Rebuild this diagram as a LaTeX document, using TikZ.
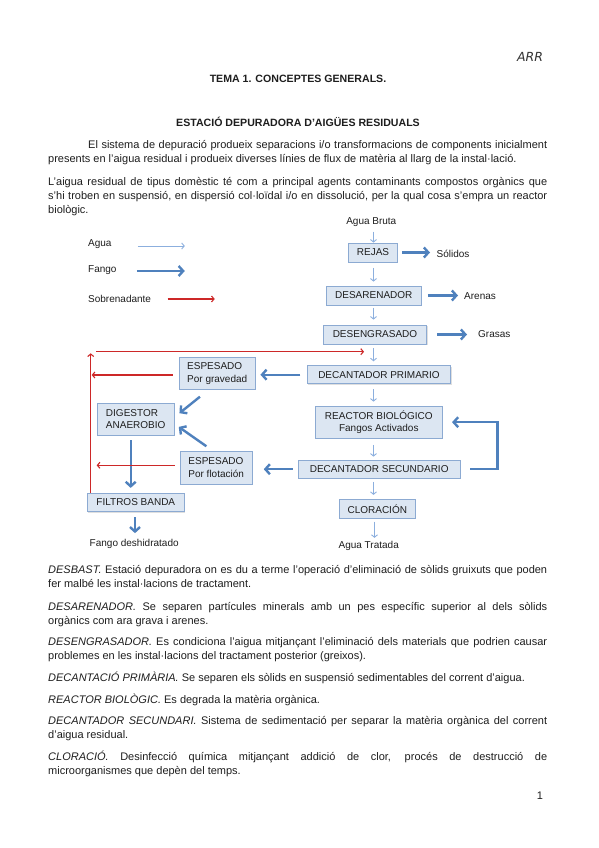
\documentclass[tikz,border=0pt]{standalone}
\usepackage{fontspec}
\setmainfont{Liberation Sans}
\newfontfamily\handfont{DejaVu Sans}
\usetikzlibrary{arrows.meta,positioning,shadows}

\definecolor{boxfill}{RGB}{220,230,242}
\definecolor{boxline}{RGB}{140,170,210}
\definecolor{aguac}{RGB}{140,175,222}
\definecolor{fangoc}{RGB}{79,129,189}
\definecolor{sobrc}{RGB}{205,40,40}
\definecolor{txt}{RGB}{30,30,30}

\newcommand{\bodyfont}{\fontsize{11}{14.3}\selectfont}
\newcommand{\headfont}{\fontsize{10.6}{13}\selectfont\bfseries}
\newcommand{\diagfont}{\fontsize{10}{12.7}\selectfont}
\hyphenpenalty=10000
\exhyphenpenalty=10000
\tolerance=10000
\hbadness=10000

\tikzset{
  para/.style={anchor=base west, text width=499pt, align=justify, inner sep=0pt, font=\bodyfont, text=txt},
  stage/.style={draw=boxline, fill=boxfill, line width=0.8pt, font=\diagfont, text=txt, inner sep=0pt,
    minimum height=19pt, drop shadow={shadow xshift=0.8pt, shadow yshift=-0.8pt, opacity=0.25}},
  lbl/.style={font=\diagfont, text=txt, inner sep=0pt},
  agua/.style={draw=aguac, line width=0.9pt, -{Straight Barb[length=2.5pt,width=6pt]}, shorten <=4pt, shorten >=4pt},
  fango/.style={draw=fangoc, line width=2.4pt, -{Straight Barb[length=4.5pt,width=10pt]}},
  sobr/.style={draw=sobrc, line width=1.1pt, -{Straight Barb[length=2.5pt,width=6pt]}},
}

\begin{document}
\begin{tikzpicture}[x=1pt, y=-1pt]
  \fill[white] (0,0) rectangle (599,848);
  \useasboundingbox (0,0) rectangle (599,848);

  % capcalera
  \node[font=\handfont\itshape\fontsize{12.5}{14}\selectfont, text=black!80] (arr) at (530,57) {ARR};
  \node[font=\headfont, text=txt, anchor=base] (tema) at (298,83) {TEMA 1. CONCEPTES GENERALS.};
  \node[font=\headfont, text=txt, anchor=base] (titol) at (298,127) {ESTACIÓ DEPURADORA D’AIGÜES RESIDUALS};

  \node[para] (intro) at (48,148) {\hspace*{40pt}El sistema de depuració produeix separacions i/o transformacions de components inicialment\linebreak
    presents en l’aigua residual i produeix diverses línies de flux de matèria al llarg de la instal·lació.};
  \node[para] (domestic) at (48,185) {L’aigua residual de tipus domèstic té com a principal agents contaminants compostos orgànics que\linebreak
    s’hi troben en suspensió, en dispersió col·loïdal i/o en dissolució, per la qual cosa s’empra un reactor\linebreak
    biològic.};

  % llegenda
  \node[lbl, anchor=west] (lagua) at (88,244) {Agua};
  \node[lbl, anchor=west] (lfango) at (88,270) {Fango};
  \node[lbl, anchor=west] (lsobr) at (88,299) {Sobrenadante};
  \draw[agua, shorten <=0pt, shorten >=0pt] ([xshift=26pt,yshift=-2pt]lagua.east) -- ++(47,0);
  \draw[fango] ([xshift=20pt,yshift=-1pt]lfango.east) -- ++(48,0);
  \draw[sobr] ([xshift=16.5pt]lsobr.east) -- ++(47,0);

  % linia d'aigua
  \coordinate (col) at (373.5,0);
  \node[lbl] (bruta) at (371.3,222) {Agua Bruta};
  \node[stage, minimum width=48.6pt] (rejas) at (373,252.5) {REJAS};
  \node[lbl, anchor=west] (solidos) at (436.5,254) {Sólidos};
  \node[stage, minimum width=94.3pt] (desarenador) at (373.8,295.5) {DESARENADOR};
  \node[lbl, anchor=west] (arenas) at (464,296) {Arenas};
  \node[stage, minimum width=103.4pt] (desengrasado) at (375,334.5) {DESENGRASADO};
  \node[lbl, anchor=west] (grasas) at (478,334.5) {Grasas};
  \node[stage, minimum width=143.4pt, minimum height=18pt] (primario) at (379,374.7) {DECANTADOR PRIMARIO};
  \node[stage, minimum width=127.7pt, minimum height=32.3pt, align=center] (reactor) at (378.8,422.2) {REACTOR BIOLÓGICO\\Fangos Activados};
  \node[stage, minimum width=161.7pt, minimum height=18.3pt] (secundario) at (379.2,469.2) {DECANTADOR SECUNDARIO};
  \node[stage, minimum width=76.7pt] (cloracion) at (377.3,508.8) {CLORACIÓN};
  \node[lbl] (tratada) at (368.7,545.7) {Agua Tratada};

  % linia de fangs
  \node[stage, minimum width=75.7pt, minimum height=32pt, align=left] (espgrav) at (217.2,373.3) {ESPESADO\\Por gravedad};
  \node[stage, minimum width=76.7pt, minimum height=31.7pt, align=left] (digestor) at (135.7,419.2) {DIGESTOR\\ANAEROBIO};
  \node[stage, minimum width=72.3pt, minimum height=32.3pt, align=left] (espflot) at (216.2,467.8) {ESPESADO\\Por flotación};
  \node[stage, minimum width=97pt, minimum height=18.4pt] (filtros) at (135.8,502.5) {FILTROS BANDA};
  \node[lbl] (deshid) at (134.2,544) {Fango deshidratado};

  \draw[agua, shorten <=5pt, shorten >=0pt] (col |- bruta.south) -- (col |- rejas.north);
  \draw[agua, shorten <=5.5pt] (col |- rejas.south) -- (col |- desarenador.north);
  \draw[agua, shorten <=2.5pt, shorten >=5pt] (col |- desarenador.south) -- (col |- desengrasado.north);
  \draw[agua] (col |- desengrasado.south) -- (col |- primario.north);
  \draw[agua, shorten <=5pt] (col |- primario.south) -- (col |- reactor.north);
  \draw[agua, shorten <=6pt, shorten >=3pt] (col |- reactor.south) -- (col |- secundario.north);
  \draw[agua, shorten <=3pt] (col |- secundario.south) -- (col |- cloracion.north);
  \draw[agua, shorten <=3pt, shorten >=3pt] ([xshift=1pt]col |- cloracion.south) -- ([xshift=1pt]col |- tratada.north);

  \draw[fango, shorten <=4.5pt, shorten >=6.5pt] (rejas.east) -- (rejas.east -| solidos.west);
  \draw[fango, shorten <=6.5pt, shorten >=6pt] (desarenador.east) -- (desarenador.east -| arenas.west);
  \draw[fango, shorten <=10pt, shorten >=11pt] (desengrasado.east) -- (desengrasado.east -| grasas.west);
  \draw[fango, shorten <=6.5pt, shorten >=5pt] (primario.west) -- (primario.west -| espgrav.east);
  \draw[fango, shorten <=5pt, shorten >=11pt] (secundario.west) -- (secundario.west -| espflot.east);
  \draw[fango] ([xshift=10pt]secundario.east) -- ++(27,0) |- ([xshift=9pt]reactor.east);
  \draw[fango] ([shift={(21,7)}]espgrav.south west) -- ([shift={(5,-6)}]digestor.east);
  \draw[fango] ([shift={(26.7,-5)}]espflot.north west) -- ([shift={(4.3,7.7)}]digestor.east);
  \draw[fango, shorten <=5pt, shorten >=5pt] ([xshift=-5pt]digestor.south) -- ([xshift=-5pt]digestor.south |- filtros.north);
  \draw[fango, shorten <=5pt, shorten >=6pt] ([xshift=-0.8pt]filtros.south) -- ([xshift=-0.8pt]filtros.south |- deshid.north);

  % sobrenadant
  \coordinate (redtop) at (90.7,353.3);
  \coordinate (retl) at (96,351.7);
  \coordinate (retr) at (364,351.7);
  \draw[sobr] (filtros.north west -| redtop) -- (redtop);
  \draw[sobr] (retl) -- (retr);
  \draw[sobr, shorten <=6pt, shorten >=1pt] ([yshift=-1.7pt]espgrav.west) -- ([yshift=-1.7pt]espgrav.west -| redtop);
  \draw[sobr, shorten <=5pt, shorten >=6pt] ([yshift=2.5pt]espflot.west) -- ([yshift=2.5pt]espflot.west -| redtop);

  % definicions
  \node[para] (desbast) at (48,573) {\textit{DESBAST.} Estació depuradora on es du a terme l’operació d’eliminació de sòlids gruixuts que poden\linebreak
    fer malbé les instal·lacions de tractament.};
  \node[para] (desaren) at (48,610) {\textit{DESARENADOR.} Se separen partícules minerals amb un pes específic superior al dels sòlids\linebreak
    orgànics com ara grava i arenes.};
  \node[para] (desengr) at (48,645) {\textit{DESENGRASADOR.} Es condiciona l’aigua mitjançant l’eliminació dels materials que podrien causar\linebreak
    problemes en les instal·lacions del tractament posterior (greixos).};
  \node[para] (decprim) at (48,681) {\textit{DECANTACIÓ PRIMÀRIA.} Se separen els sòlids en suspensió sedimentables del corrent d’aigua.};
  \node[para] (reactbio) at (48,703) {\textit{REACTOR BIOLÒGIC.} Es degrada la matèria orgànica.};
  \node[para] (decsec) at (48,724) {\textit{DECANTADOR SECUNDARI.} Sistema de sedimentació per separar la matèria orgànica del corrent\linebreak
    d’aigua residual.};
  \node[para] (clorac) at (48,760) {\textit{CLORACIÓ.} Desinfecció química mitjançant addició de clor, procés de destrucció de\linebreak
    microorganismes que depèn del temps.};

  \node[font=\bodyfont, text=txt, anchor=base] (pag) at (540,799) {1};
\end{tikzpicture}
\end{document}
